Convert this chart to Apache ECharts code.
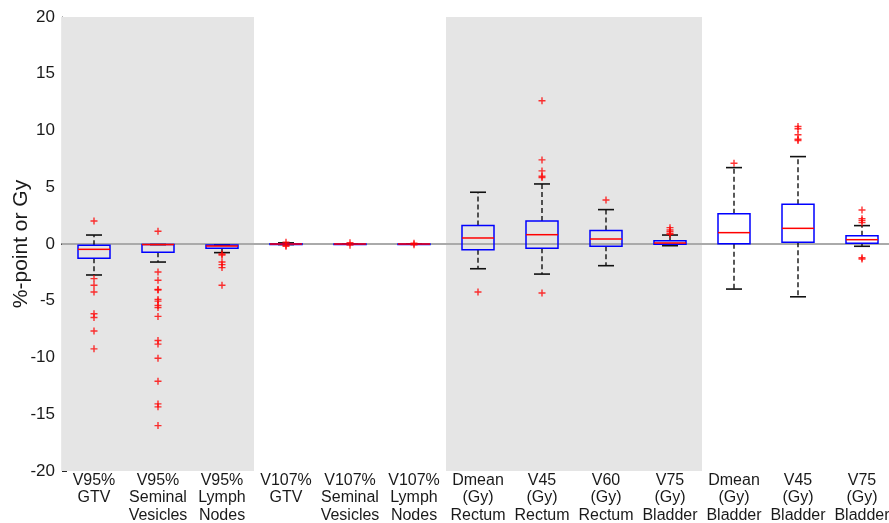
<!DOCTYPE html>
<html>
<head>
<meta charset="utf-8">
<script src="https://cdn.jsdelivr.net/npm/echarts@6/dist/echarts.min.js"></script>
<style>
  html, body { margin: 0; padding: 0; background: #fff; }
  #chart { width: 889px; height: 523px; }
</style>
</head>
<body>
<div id="chart"></div>
<script>
// Dose-metric differences per structure (box-and-whisker summary)
const categories = [
  'V95%\nGTV', 'V95%\nSeminal\nVesicles', 'V95%\nLymph\nNodes',
  'V107%\nGTV', 'V107%\nSeminal\nVesicles', 'V107%\nLymph\nNodes',
  'Dmean\n(Gy)\nRectum', 'V45\n(Gy)\nRectum', 'V60\n(Gy)\nRectum', 'V75\n(Gy)\nBladder',
  'Dmean\n(Gy)\nBladder', 'V45\n(Gy)\nBladder', 'V75\n(Gy)\nBladder'
];

const lowerWhisker = [-2.73, -1.59, -0.76, -0.05, -0.02, 0.0, -2.18, -2.65, -1.91, -0.15, -3.97, -4.65, -0.2];
const q1           = [-1.26, -0.73, -0.38, -0.05, -0.02, 0.0, -0.5, -0.38, -0.2, -0.03, 0.03, 0.15, 0.06];
const median       = [-0.47, -0.05, -0.18, 0.0, 0.0, 0.0, 0.53, 0.82, 0.44, 0.09, 1.0, 1.38, 0.38];
const q3           = [-0.12, -0.05, -0.08, 0.02, 0.0, 0.0, 1.62, 2.03, 1.18, 0.29, 2.67, 3.5, 0.73];
const upperWhisker = [0.79, -0.05, -0.08, 0.1, 0.02, 0.0, 4.56, 5.29, 3.03, 0.79, 6.73, 7.7, 1.62];

const outliers = [
  [2.02, -3.05, -3.63, -4.23, -6.15, -6.47, -7.66, -9.24],
  [1.12, -2.47, -3.2, -4.0, -4.05, -4.88, -5.03, -5.41, -5.59, -6.38, -8.5, -8.82, -10.06, -12.09, -14.09, -14.35, -16.0],
  [-0.88, -0.97, -1.59, -1.82, -2.08, -3.64],
  [0.15, -0.12, -0.2],
  [0.12, -0.1],
  [0.06, -0.06],
  [-4.23],
  [12.62, 7.41, 6.44, 5.97, 5.85, -4.32],
  [3.88],
  [1.44, 1.24, 1.09, 0.94, 0.85],
  [7.12],
  [10.35, 10.15, 9.62, 9.23, 9.12],
  [3.0, 2.23, 2.06, 1.88, -1.21, -1.32]
];

// Shaded category groups (first index, last index)
const shadedGroups = [[0, 2], [6, 9]];

const yTicks = { min: -20, max: 20, step: 5 };

const FONT = "'Liberation Sans', Arial, Helvetica, sans-serif";

const boxData = categories.map((c, i) => [i, lowerWhisker[i], q1[i], median[i], q3[i], upperWhisker[i]]);
const outlierData = [];
outliers.forEach((list, i) => list.forEach(v => outlierData.push([i, v])));

const chart = echarts.init(document.getElementById('chart'), null, { renderer: 'canvas' });

const option = {
  animation: false,
  backgroundColor: '#ffffff',
  grid: { left: 62, right: -5, top: 17, bottom: 52, containLabel: false, outerBoundsMode: 'none' },
  xAxis: [
    {
      type: 'category',
      data: categories,
      boundaryGap: true,
      axisLine: { show: true, lineStyle: { color: '#262626', width: 1.2 } },
      axisTick: { show: false },
      axisLabel: {
        interval: 0, fontFamily: FONT, fontSize: 16, lineHeight: 17.3,
        color: '#1a1a1a', margin: 1
      },
      splitLine: { show: false }
    },
    {
      type: 'category',
      data: categories,
      position: 'top',
      axisLine: { show: true, lineStyle: { color: '#000', width: 1.5 } },
      axisTick: { show: false },
      axisLabel: { show: false },
      splitLine: { show: false }
    }
  ],
  yAxis: [
    {
      type: 'value',
      min: yTicks.min, max: yTicks.max, interval: yTicks.step,
      axisLine: { show: true, lineStyle: { color: '#262626', width: 1.2 } },
      axisTick: { show: true, inside: true, length: 5, lineStyle: { color: '#262626' } },
      axisLabel: { fontFamily: FONT, fontSize: 17, color: '#1a1a1a', margin: 7 },
      splitLine: { show: false },
      name: '%-point or Gy',
      nameLocation: 'middle',
      nameGap: 30,
      nameMoveOverlap: false,
      nameTextStyle: { fontFamily: FONT, fontSize: 21, color: '#1a1a1a' }
    },
    {
      type: 'value',
      position: 'right',
      min: yTicks.min, max: yTicks.max, interval: yTicks.step,
      axisLine: { show: true, lineStyle: { color: '#262626' } },
      axisTick: { show: true, inside: true, length: 5, lineStyle: { color: '#262626' } },
      axisLabel: { show: false },
      splitLine: { show: false }
    }
  ],
  series: [
    {
      // gray background bands behind category groups
      type: 'custom',
      z: 1,
      silent: true,
      data: shadedGroups,
      renderItem: function (params, api) {
        const cs = params.coordSys;
        const w = api.size([1, 0])[0];
        const x0 = api.coord([api.value(0), 0])[0] - w / 2;
        const x1 = api.coord([api.value(1), 0])[0] + w / 2;
        return {
          type: 'rect',
          shape: { x: x0, y: cs.y, width: x1 - x0, height: cs.height },
          style: { fill: '#e5e5e5' }
        };
      }
    },
    {
      // zero reference line
      type: 'custom',
      z: 2,
      silent: true,
      data: [0],
      renderItem: function (params, api) {
        const cs = params.coordSys;
        const y = api.coord([0, api.value(0)])[1];
        return {
          type: 'line',
          shape: { x1: cs.x, y1: y, x2: cs.x + cs.width, y2: y },
          style: { stroke: '#aaaaaa', lineWidth: 2 }
        };
      }
    },
    {
      // boxes, medians and whiskers
      type: 'custom',
      z: 3,
      silent: true,
      data: boxData,
      renderItem: function (params, api) {
        const idx = api.value(0);
        const w = api.size([1, 0])[0] * 0.5;
        const cx = api.coord([idx, 0])[0];
        const yLo = api.coord([idx, api.value(1)])[1];
        const yQ1 = api.coord([idx, api.value(2)])[1];
        const yMed = api.coord([idx, api.value(3)])[1];
        const yQ3 = api.coord([idx, api.value(4)])[1];
        const yHi = api.coord([idx, api.value(5)])[1];
        const capW = w / 2;
        const whisk = { stroke: '#000', lineWidth: 1.3, lineDash: [5, 3] };
        const cap = { stroke: '#111', lineWidth: 1.6 };
        return {
          type: 'group',
          children: [
            { type: 'line', shape: { x1: cx, y1: yQ3, x2: cx, y2: yHi }, style: whisk },
            { type: 'line', shape: { x1: cx, y1: yQ1, x2: cx, y2: yLo }, style: whisk },
            { type: 'line', shape: { x1: cx - capW / 2, y1: yHi, x2: cx + capW / 2, y2: yHi }, style: cap },
            { type: 'line', shape: { x1: cx - capW / 2, y1: yLo, x2: cx + capW / 2, y2: yLo }, style: cap },
            {
              type: 'rect',
              shape: { x: cx - w / 2, y: yQ3, width: w, height: Math.max(yQ1 - yQ3, 0.5) },
              style: { fill: 'none', stroke: '#0000ff', lineWidth: 1.5 }
            },
            { type: 'line', shape: { x1: cx - w / 2, y1: yMed, x2: cx + w / 2, y2: yMed }, style: { stroke: '#ff0000', lineWidth: 1.5 } }
          ]
        };
      }
    },
    {
      // outliers
      type: 'scatter',
      z: 4,
      silent: true,
      data: outlierData,
      symbol: 'path://M4,0H6V4H10V6H6V10H4V6H0V4H4Z',
      symbolSize: 7,
      itemStyle: { color: '#ff0000' }
    }
  ]
};

chart.setOption(option);
</script>
</body>
</html>
